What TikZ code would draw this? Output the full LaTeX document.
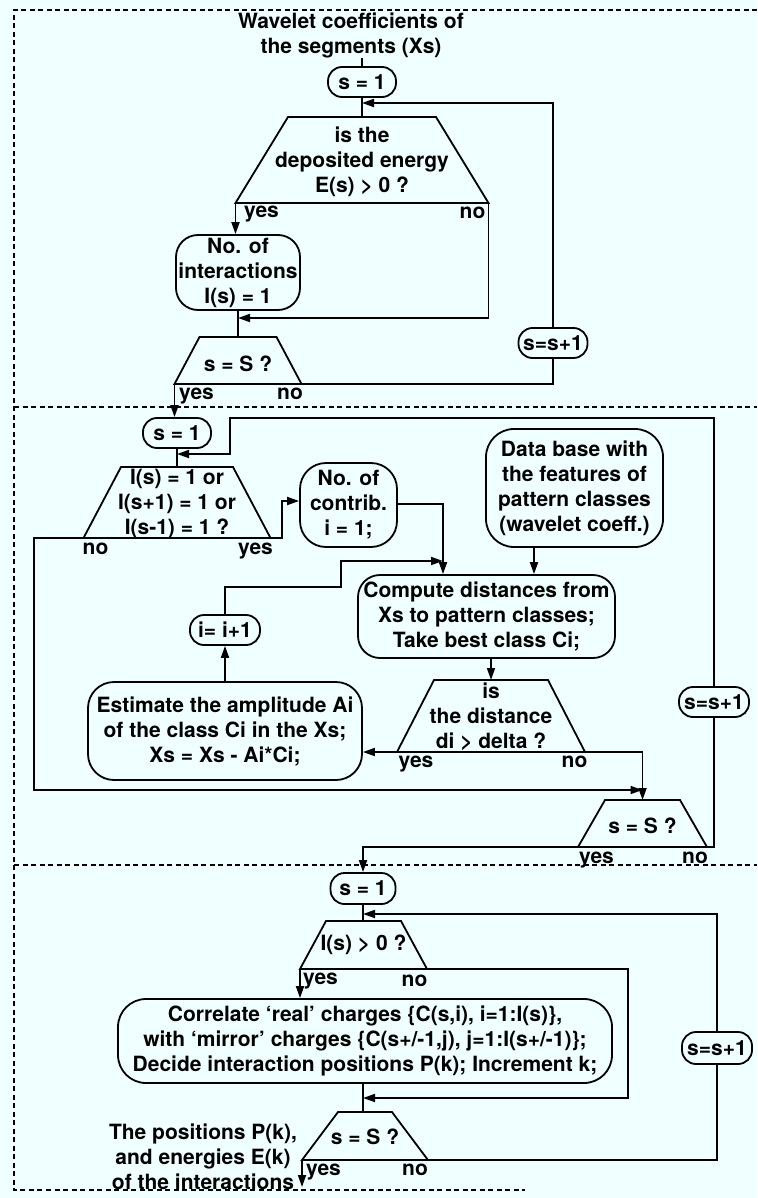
\documentclass[tikz,border=0pt]{standalone}
\usepackage{fontspec}
\setmainfont{TeX Gyre Heros}
\usetikzlibrary{arrows.meta}
\definecolor{paper}{RGB}{240,255,255}

\tikzset{
  txt/.style={font=\bfseries\fontsize{21}{25}\selectfont, inner sep=0pt, align=center},
  wire/.style={line width=1.8pt},
  arr/.style={wire, -{Triangle[length=12pt,width=8pt]}},
  rbox/.style={txt, draw, line width=1.8pt, rounded corners=22pt},
  pill/.style={txt, draw, line width=1.8pt, rounded corners=14pt, minimum width=68pt, minimum height=30pt},
  frame/.style={line width=1.3pt, dash pattern=on 5pt off 3.5pt},
  tag/.style={txt, anchor=base},
}

% name, centre x, top y, bottom y, top half width, bottom half width, text y, text
\newcommand{\trapbox}[8]{%
  \coordinate (#1-tl) at ({#2-#5},#3);
  \coordinate (#1-tr) at ({#2+#5},#3);
  \coordinate (#1-bl) at ({#2-#6},#4);
  \coordinate (#1-br) at ({#2+#6},#4);
  \coordinate (#1-t) at (#2,#3);
  \draw[wire] (#1-tl) -- (#1-tr) -- (#1-br) -- (#1-bl) -- cycle;
  \node[txt] (#1) at (#2,#7) {#8};
}

\begin{document}
\begin{tikzpicture}[x=1pt,y=-1pt]
\path[use as bounding box, fill=paper] (0,0) rectangle (757,1198);

% dashed frame and stage separators
\draw[frame] (757,10) -- (14,10) -- (14,1190) -- (525,1190);
\draw[frame] (14,407) -- (757,407);
\draw[frame] (14,865) -- (757,865);

% ---------- stage 1: count interactions ----------
\node[txt] (title) at (351,35) {Wavelet coefficients of\\the segments (Xs)};
\node[pill] (s1a) at (362,82) {s = 1};
\trapbox{t1}{362}{117}{203}{74}{126.5}{162}{is the\\deposited energy\\E(s) > 0 ?}
\node[rbox, minimum width=124pt, minimum height=75pt] (n1) at (238,272.5) {No. of\\interactions\\I(s) = 1};
\trapbox{t2}{238}{337}{384}{38.5}{63.5}{364}{s = S ?}
\node[pill, minimum width=69pt] (ssa) at (553,343) {s=s+1};

\node[tag] (y1) at (261.5,218) {yes};
\node[tag] (n1l) at (472.5,219) {no};
\node[tag] (y2) at (196.5,399) {yes};
\node[tag] (n2l) at (290,399) {no};

% ---------- stage 2: decompose into pattern classes ----------
\node[pill] (s1b) at (177,433) {s = 1};
\trapbox{t3}{177}{467}{538}{56}{93.5}{504}{I(s) = 1 or\\I(s+1) = 1 or\\I(s-1) = 1 ?}
\node[rbox, rounded corners=26pt, minimum width=97pt, minimum height=84pt] (nc) at (348.5,505) {No. of\\contrib.\\i = 1;};
\node[rbox, rounded corners=28pt, minimum width=177pt, minimum height=118pt] (db) at (574.5,488) {Data base with\\the features of\\pattern classes\\(wavelet coeff.)};
\node[rbox, minimum width=257pt, minimum height=83pt] (cmp) at (486.5,616.5) {Compute distances from\\Xs to pattern classes;\\Take best class Ci;};
\node[pill, minimum width=70pt] (ip) at (225,630) {i= i+1};
\node[rbox, rounded corners=26pt, minimum width=274pt, minimum height=98pt] (est) at (225,731) {Estimate the amplitude Ai\\of the class Ci in the Xs;\\Xs = Xs - Ai*Ci;};
\trapbox{t4}{491}{680}{752}{57}{94}{717}{is\\the distance\\di > delta ?}
\trapbox{t5}{642.5}{800}{847}{37.5}{64.5}{826}{s = S ?}
\node[pill, minimum width=70pt] (ssb) at (714,702) {s=s+1};

\node[tag] (n3l) at (95.5,554) {no};
\node[tag] (y3) at (255.5,554) {yes};
\node[tag] (y4) at (416,767) {yes};
\node[tag] (n4l) at (574.5,767) {no};
\node[tag] (y5) at (596.5,863) {yes};
\node[tag] (n5l) at (695,863) {no};

% ---------- stage 3: positions ----------
\node[pill, minimum width=65pt, minimum height=31pt] (s1c) at (363,888.5) {s = 1};
\trapbox{t6}{363.5}{921}{969}{37.5}{63.5}{945}{I(s) > 0 ?}
\node[rbox, rounded corners=28pt, minimum width=494pt, minimum height=84pt] (cor) at (365,1041) {Correlate ‘real’ charges \{C(s,i), i=1:I(s)\},\\with ‘mirror’ charges \{C(s+/-1,j), j=1:I(s+/-1)\};\\Decide interaction positions P(k); Increment k;};
\trapbox{t7}{365}{1112}{1160}{27}{63}{1137}{s = S ?}
\node[pill, minimum width=70pt, minimum height=32pt] (ssc) at (717,1048) {s=s+1};
\node[txt] (out) at (203,1157) {The positions P(k),\\and energies E(k)\\of the interactions};

\node[tag] (y6) at (320.5,984) {yes};
\node[tag] (n6l) at (414.5,986) {no};
\node[tag] (y7) at (323.5,1175) {yes};
\node[tag] (n7l) at (415,1175) {no};

% ---------- connectors, stage 1 ----------
\coordinate (j1) at (362,103);
\coordinate (j2) at (238,318);
\draw[wire] (s1a.north |- title.south) -- (s1a.north);
\draw[wire] (s1a.south) -- (t1-t);
\draw[arr] (ssa.north) |- (j1);
\draw[arr] (t1-bl) -- (t1-bl |- n1.north);
\draw[arr] (t1-br) |- (j2);
\draw[wire] (n1.south) -- (t2-t);
\draw[wire] (t2-br) -| (ssa.south);
\draw[arr] (t2-bl) -- (t2-bl |- s1b.north);

% ---------- connectors, stage 2 ----------
\coordinate (j3) at (177,454);
\coordinate (k1) at (230,418);
\coordinate (k2) at (34,538);
\coordinate (j4) at (642.5,790);
\coordinate (k3) at (282,538);
\coordinate (k5) at (341,587);
\coordinate (j5) at (443,561);
\draw[wire] (s1b.south) -- (t3-t);
\draw[arr] (ssb.north) |- (k1) |- (j3);
\draw[arr] (t3-bl) -- (k2) |- (j4);
\draw[arr] (t3-br) -- (k3) |- ([yshift=4pt]nc.west);
\draw[arr] ([yshift=1pt]nc.east) -| ([xshift=-43.5pt]cmp.north);
\draw[arr] ([xshift=-40.5pt]db.south) -- ([xshift=47.5pt]cmp.north);
\draw[arr] (cmp.south -| t4-t) -- (t4-t);
\draw[arr] (t4-bl) -- (t4-bl -| est.east);
\draw[arr] (est.north) -- (ip.south);
\draw[arr] (ip.north) |- (k5) |- (j5);
\draw[arr] (t4-br) -| (t5-t);
\draw[wire] (t5-br) -| (ssb.south);
\draw[arr] (t5-bl) -| (s1c.north);

% ---------- connectors, stage 3 ----------
\coordinate (j6) at (363,914);
\coordinate (k6) at (628,969);
\coordinate (j7) at (363,1098);
\coordinate (fin) at (302,1187);
\draw[wire] (s1c.south) -- (s1c.south |- t6-t);
\draw[arr] (ssc.north) |- (j6);
\draw[arr] (t6-bl) -- (t6-bl |- cor.north);
\draw[arr] (t6-br) -- (k6) |- (j7);
\draw[wire] (cor.south -| j7) -- (j7 |- t7-t);
\draw[wire] (t7-br) -| (ssc.south);
\draw[arr] (t7-bl) -- (fin);
\end{tikzpicture}
\end{document}
